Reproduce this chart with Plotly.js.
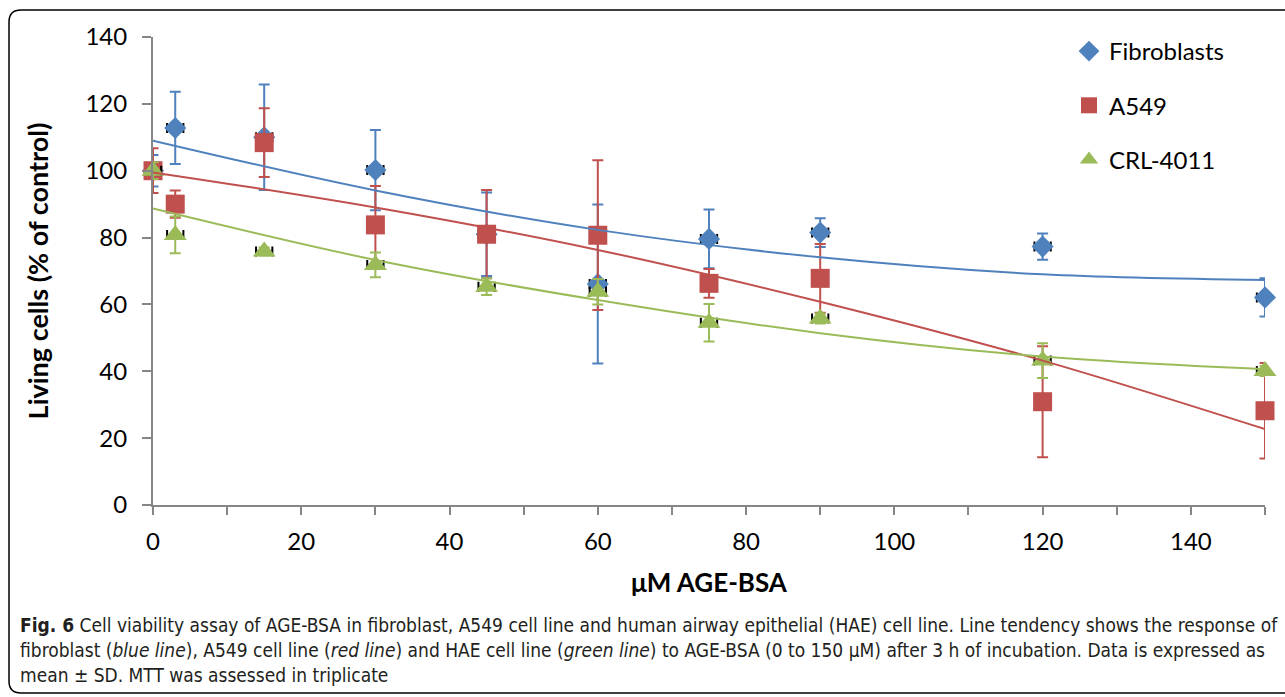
<!DOCTYPE html>
<html>
<head>
<meta charset="utf-8">
<script src="https://cdn.plot.ly/plotly-3.0.1.min.js"></script>
<style>html,body{margin:0;padding:0;background:#fff;}#chart{width:1285px;height:697px;}</style>
</head>
<body>
<div id="chart"></div>
<script>
// ---- data ----
const doses = [0, 3, 15, 30, 45, 60, 75, 90, 120, 150];
const fibroblasts = [100, 112.8, 110, 100.2, 81, 66.1, 79.6, 81.5, 77.3, 62.1];
const fibroblastsSD = [4.7, 10.8, 15.8, 12, 12.5, 23.8, 8.8, 4.3, 3.9, 5.7];
const a549 = [100, 90, 108.4, 83.8, 81, 80.7, 66.3, 67.8, 30.9, 28.2];
const a549SD = [6.7, 4.1, 10.3, 11.6, 13.2, 22.4, 4.3, 10.3, 16.6, 14.3];
const crl4011 = [100, 80.8, 75.8, 71.8, 65.3, 63.8, 54.5, 55.8, 43.2, 40.1];
const crl4011SD = [2.5, 5.5, 1.2, 3.7, 2.5, 3.8, 5.6, 1.5, 5.2, 1.5];
const doseSD = [1.1, 1.1, 1.1, 1.1, 1.1, 1.1, 1.1, 1.1, 1.1, 1.1];

// trend lines
const trendX = [0, 30, 60, 90, 120, 150];
const fibTrend = [109, 94.1, 82.3, 74.1, 69, 67.3];
const a549Trend = [99.5, 89.0, 76.3, 60.8, 43.2, 22.7];
const crlTrend = [88.7, 73.3, 61.3, 51.4, 44.4, 40.6];

const seriesNames = ['Fibroblasts', 'A549', 'CRL-4011'];
const xTitle = 'μM AGE-BSA';
const yTitle = 'Living cells (% of control)';
const captionLines = [
  '<b>Fig. 6</b> Cell viability assay of AGE-BSA in fibroblast, A549 cell line and human airway epithelial (HAE) cell line. Line tendency shows the response of',
  'fibroblast (<i>blue line</i>), A549 cell line (<i>red line</i>) and HAE cell line (<i>green line</i>) to AGE-BSA (0 to 150 μM) after 3 h of incubation. Data is expressed as',
  'mean ± SD. MTT was assessed in triplicate'
];

const BLUE = '#4F81BD', RED = '#C0504D', GREEN = '#9BBB59';
const FONT = 'Lato, "Open Sans", sans-serif';

function errY(arr, color) {
  return {type: 'data', array: arr, visible: true, color: color, thickness: 2, width: 5.5};
}
function errX(arr) {
  return {type: 'data', array: arr, visible: true, color: '#000', thickness: 2, width: 5};
}

const traces = [
  {x: doses, y: fibroblasts, name: seriesNames[0], mode: 'markers', type: 'scatter', legendgroup: 'a', cliponaxis: false,
   marker: {symbol: 'diamond', size: 17, color: BLUE}, error_y: errY(fibroblastsSD, BLUE), error_x: errX(doseSD)},
  {x: doses, y: a549, name: seriesNames[1], mode: 'markers', type: 'scatter', legendgroup: 'b', cliponaxis: false,
   marker: {symbol: 'square', size: 19, color: RED}, error_y: errY(a549SD, RED)},
  {x: doses, y: crl4011, name: seriesNames[2], mode: 'markers', type: 'scatter', legendgroup: 'c', cliponaxis: false,
   marker: {symbol: 'triangle-up', size: 20, color: GREEN}, error_y: errY(crl4011SD, GREEN), error_x: errX(doseSD)},
  {x: trendX, y: fibTrend, mode: 'lines', type: 'scatter', showlegend: false, hoverinfo: 'skip', cliponaxis: false,
   line: {color: BLUE, width: 2, shape: 'spline'}},
  {x: trendX, y: a549Trend, mode: 'lines', type: 'scatter', showlegend: false, hoverinfo: 'skip', cliponaxis: false,
   line: {color: RED, width: 2, shape: 'spline'}},
  {x: trendX, y: crlTrend, mode: 'lines', type: 'scatter', showlegend: false, hoverinfo: 'skip', cliponaxis: false,
   line: {color: GREEN, width: 2, shape: 'spline'}}
];

// pixel helpers for decorations (plot area 153..1265 x 37..505)
const L = 153, R = 1265, T = 37, B = 505;
const px = X => (X - L) / (R - L);
const py = Y => (B - Y) / (B - T);

const rad = 12;
const bx0 = 9, by0 = 10, bx1 = 1295, by1 = 693;
const borderPath =
  `M ${px(bx0)},${py(by0 + rad)} Q ${px(bx0)},${py(by0)} ${px(bx0 + rad)},${py(by0)} ` +
  `L ${px(bx1 - rad)},${py(by0)} Q ${px(bx1)},${py(by0)} ${px(bx1)},${py(by0 + rad)} ` +
  `L ${px(bx1)},${py(by1 - rad)} Q ${px(bx1)},${py(by1)} ${px(bx1 - rad)},${py(by1)} ` +
  `L ${px(bx0 + rad)},${py(by1)} Q ${px(bx0)},${py(by1)} ${px(bx0)},${py(by1 - rad)} Z`;

const captionY = [625, 650, 675];
const annotations = captionLines.map((t, i) => ({
  text: t, xref: 'paper', yref: 'paper', x: px(18), y: py(captionY[i]),
  xanchor: 'left', yanchor: 'middle', showarrow: false, align: 'left',
  font: {family: '"DejaVu Sans Condensed", sans-serif', size: 19, color: '#231f20'}
}));

const layout = {
  width: 1285, height: 697,
  margin: {l: L, r: 1285 - R, t: T, b: 697 - B},
  paper_bgcolor: '#fff', plot_bgcolor: '#fff',
  font: {family: FONT, color: '#000'},
  showlegend: true,
  legend: {x: px(1069), y: py(29), xanchor: 'left', yanchor: 'top', traceorder: 'grouped',
           tracegroupgap: 20, font: {family: FONT, size: 24, color: '#000'}, bgcolor: 'rgba(0,0,0,0)'},
  xaxis: {range: [0, 150], dtick: 20, tick0: 0, ticks: 'outside', ticklen: 8, tickwidth: 2, tickcolor: '#868686',
          minor: {dtick: 10, tick0: 0, ticks: 'outside', ticklen: 8, tickwidth: 2, tickcolor: '#868686'},
          showline: true, linecolor: '#868686', linewidth: 2, showgrid: false, zeroline: false,
          tickfont: {family: FONT, size: 24}, ticklabelstandoff: 6,
          title: {text: '<b>' + xTitle + '</b>', font: {family: FONT, size: 26}, standoff: 20}},
  yaxis: {range: [0, 140], dtick: 20, tick0: 0, ticks: 'outside', ticklen: 9, tickwidth: 2, tickcolor: '#868686',
          showline: true, linecolor: '#868686', linewidth: 2, showgrid: false, zeroline: false,
          tickfont: {family: FONT, size: 24}, ticklabelstandoff: 10,
          title: {text: '<b>' + yTitle + '</b>', font: {family: FONT, size: 27}, standoff: 29}},
  shapes: [{type: 'path', xref: 'paper', yref: 'paper', path: borderPath, line: {color: '#000', width: 1.5}, layer: 'below'}],
  annotations: annotations
};

Plotly.newPlot('chart', traces, layout, {staticPlot: true, displayModeBar: false});
</script>
</body>
</html>
